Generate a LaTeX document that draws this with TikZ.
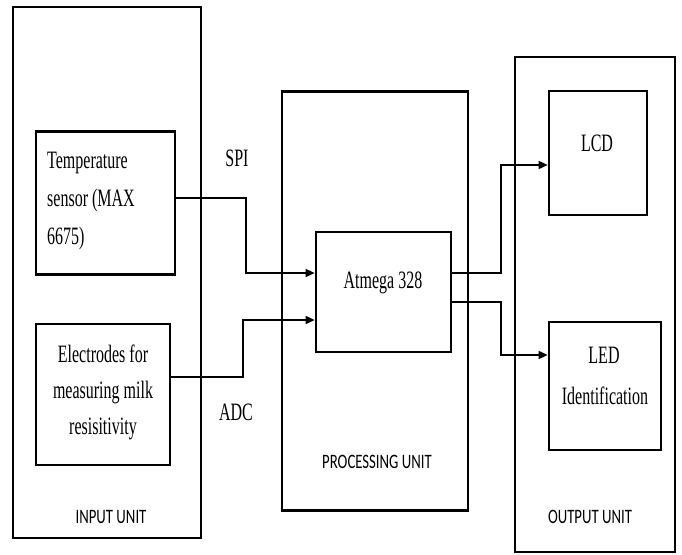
\documentclass[tikz,border=0pt]{standalone}
\usepackage{fontspec}
\setmainfont{Liberation Serif}
\newfontfamily\serifcond[FakeStretch=0.64]{Liberation Serif}
\newfontfamily\labcond[FakeStretch=0.72]{Carlito}
\usetikzlibrary{arrows.meta}
\begin{document}
\begin{tikzpicture}[x=1pt,y=-1pt,
  box/.style={draw,line width=2.7pt,rectangle,inner sep=0pt},
  conn/.style={line width=1.5pt},
  arr/.style={conn,-{Triangle[length=9pt,width=8pt]}},
  txt/.style={font=\serifcond\fontsize{25}{38}\selectfont,inner sep=0pt},
  lab/.style={font=\labcond\fontsize{20.5}{24}\selectfont,inner sep=0pt}]
\useasboundingbox (0,0) rectangle (682,554);
% outer units
\node[box,minimum width=188pt,minimum height=531pt] (inunit) at (107,272.5) {};
\node[box,minimum width=186pt,minimum height=419pt] (procunit) at (375,301) {};
\node[box,minimum width=160pt,minimum height=495pt] (outunit) at (595,304.5) {};
% inner boxes
\node[box,minimum width=139pt,minimum height=143pt] (temp) at (105.5,203) {};
\node[box,minimum width=134pt,minimum height=141pt] (elec) at (103,394.5) {};
\node[box,minimum width=135pt,minimum height=120pt] (atm) at (383.5,292) {};
\node[box,minimum width=98pt,minimum height=124pt] (lcd) at (598,153) {};
\node[box,minimum width=112pt,minimum height=128pt] (led) at (605,386) {};
% texts
\node[txt,anchor=base west] (t1) at (47,168) {Temperature};
\node[txt,anchor=base west] (t2) at (47,206) {sensor (MAX};
\node[txt,anchor=base west] (t3) at (47,244) {6675)};
\node[txt,anchor=base] (e1) at (103,362) {Electrodes for};
\node[txt,anchor=base] (e2) at (103,398) {measuring milk};
\node[txt,anchor=base] (e3) at (103,434) {resisitivity};
\node[txt,anchor=base] (a1) at (383,288) {Atmega 328};
\node[txt,anchor=base] (l1) at (597,151) {LCD};
\node[txt,anchor=base] (l2) at (604,363) {LED};
\node[txt,anchor=base] (l3) at (605,404) {Identification};
\node[txt,anchor=base] (spi) at (237,166) {SPI};
\node[txt,anchor=base] (adc) at (236,420) {ADC};
\node[lab,anchor=base] (inl) at (111,523) {INPUT UNIT};
\node[lab,anchor=base] (prl) at (377,468) {PROCESSING UNIT};
\node[lab,anchor=base] (oul) at (590,523) {OUTPUT UNIT};
% connectors
\coordinate (s1) at (246,198);
\coordinate (s2) at (246,273);
\coordinate (d1) at (243,377);
\coordinate (d2) at (243,320);
\coordinate (o1) at (501,273);
\coordinate (o2) at (501,165);
\coordinate (o3) at (501,302);
\coordinate (o4) at (501,355);
\draw[arr] (temp.east |- s1) -- (s1) -- (s2) -- (atm.west |- s2);
\draw[arr] (elec.east |- d1) -- (d1) -- (d2) -- (atm.west |- d2);
\draw[arr] (atm.east |- o1) -- (o1) -- (o2) -- (lcd.west |- o2);
\draw[arr] (atm.east |- o3) -- (o3) -- (o4) -- (led.west |- o4);
\end{tikzpicture}
\end{document}
